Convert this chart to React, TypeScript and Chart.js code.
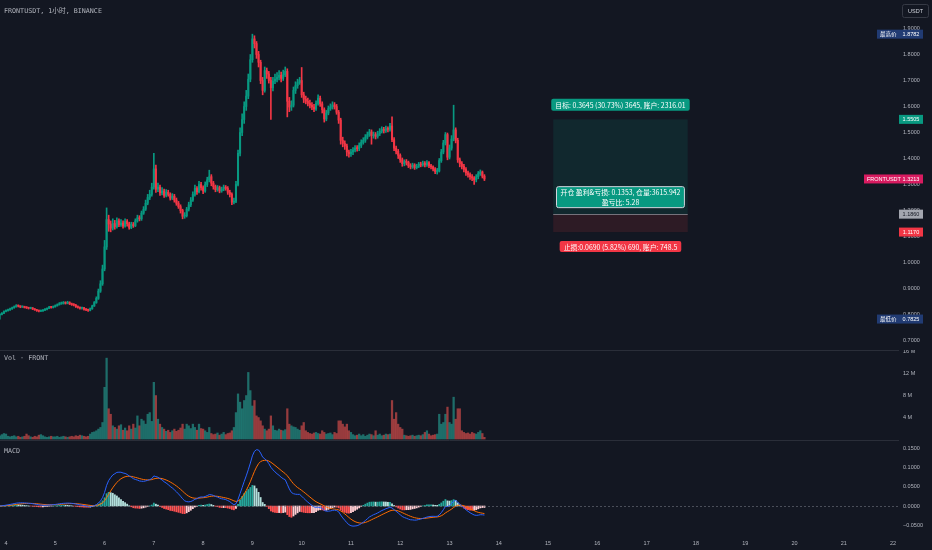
import React, { useEffect, useRef } from "react";
import Chart from "chart.js/auto";

// 1h candles. Hour 0 = day 4 00:00, the first candle is day 3 21:00
const firstHour = -3;
const firstOpen = 0.798;

const closes = [
  0.8, 0.805, 0.812,
  0.815, 0.818, 0.822, 0.826, 0.83, 0.834, 0.832, 0.829, 0.83, 0.827, 0.826, 0.824, 0.825, 0.821, 0.818, 0.815, 0.813, 0.814, 0.817, 0.82, 0.824, 0.828, 0.827, 0.83,
  0.834, 0.838, 0.842, 0.843, 0.845, 0.843, 0.846, 0.841, 0.838, 0.836, 0.83, 0.827, 0.824, 0.826, 0.82, 0.818, 0.816, 0.822, 0.833, 0.846, 0.862, 0.89, 0.918, 0.975,
  1.06, 1.165, 1.148, 1.132, 1.15, 1.138, 1.16, 1.145, 1.152, 1.14, 1.158, 1.149, 1.135, 1.146, 1.142, 1.16, 1.172, 1.168, 1.19, 1.205, 1.228, 1.25, 1.262, 1.29,
  1.36, 1.282, 1.29, 1.268, 1.275, 1.258, 1.27, 1.262, 1.248, 1.255, 1.24, 1.228, 1.215, 1.2, 1.178, 1.18, 1.205, 1.222, 1.24, 1.262, 1.285, 1.272, 1.3, 1.288,
  1.275, 1.3, 1.318, 1.33, 1.305, 1.292, 1.28, 1.288, 1.275, 1.282, 1.29, 1.285, 1.27, 1.262, 1.232, 1.235, 1.3, 1.42, 1.5, 1.55, 1.6, 1.64, 1.705, 1.78,
  1.86, 1.842, 1.8, 1.77, 1.7, 1.662, 1.738, 1.725, 1.7, 1.672, 1.698, 1.705, 1.712, 1.72, 1.708, 1.722, 1.735, 1.62, 1.598, 1.605, 1.662, 1.68, 1.692, 1.7,
  1.645, 1.628, 1.62, 1.612, 1.605, 1.598, 1.59, 1.612, 1.632, 1.61, 1.588, 1.552, 1.575, 1.592, 1.598, 1.606, 1.6, 1.578, 1.548, 1.47, 1.458, 1.448, 1.425, 1.418,
  1.425, 1.432, 1.44, 1.438, 1.45, 1.462, 1.47, 1.482, 1.492, 1.502, 1.488, 1.492, 1.485, 1.495, 1.505, 1.512, 1.508, 1.515, 1.512, 1.525, 1.472, 1.44, 1.428, 1.412,
  1.395, 1.38, 1.388, 1.385, 1.372, 1.368, 1.375, 1.365, 1.37, 1.378, 1.375, 1.382, 1.376, 1.384, 1.372, 1.368, 1.36, 1.35, 1.352, 1.392, 1.425, 1.46, 1.492, 1.405,
  1.44, 1.475, 1.51, 1.47, 1.395, 1.38, 1.37, 1.358, 1.345, 1.338, 1.33, 1.325, 1.318, 1.33, 1.342, 1.348, 1.332, 1.3213,
];

const highs = [
  0.803, 0.807, 0.814,
  0.818, 0.821, 0.825, 0.829, 0.833, 0.838, 0.837, 0.834, 0.833, 0.832, 0.83, 0.828, 0.828, 0.827, 0.823, 0.82, 0.817, 0.817, 0.819, 0.823, 0.826, 0.831, 0.831, 0.833,
  0.837, 0.841, 0.846, 0.848, 0.85, 0.849, 0.851, 0.849, 0.844, 0.842, 0.839, 0.833, 0.83, 0.829, 0.828, 0.823, 0.821, 0.825, 0.836, 0.85, 0.868, 0.898, 0.93, 0.99,
  1.085, 1.21, 1.182, 1.16, 1.168, 1.162, 1.172, 1.168, 1.165, 1.16, 1.168, 1.165, 1.155, 1.155, 1.154, 1.168, 1.182, 1.18, 1.198, 1.215, 1.24, 1.262, 1.278, 1.305,
  1.42, 1.375, 1.305, 1.298, 1.288, 1.282, 1.28, 1.278, 1.268, 1.265, 1.262, 1.248, 1.235, 1.222, 1.205, 1.192, 1.212, 1.232, 1.25, 1.272, 1.298, 1.292, 1.312, 1.308,
  1.295, 1.31, 1.328, 1.355, 1.338, 1.312, 1.298, 1.296, 1.294, 1.29, 1.298, 1.296, 1.292, 1.278, 1.268, 1.248, 1.312, 1.432, 1.518, 1.572, 1.618, 1.662, 1.725, 1.8,
  1.8782, 1.872, 1.85, 1.812, 1.778, 1.712, 1.752, 1.748, 1.735, 1.712, 1.712, 1.725, 1.73, 1.738, 1.732, 1.74, 1.752, 1.745, 1.635, 1.622, 1.675, 1.695, 1.705, 1.712,
  1.75, 1.655, 1.64, 1.632, 1.625, 1.615, 1.608, 1.622, 1.645, 1.64, 1.618, 1.595, 1.585, 1.602, 1.61, 1.618, 1.615, 1.608, 1.585, 1.555, 1.482, 1.468, 1.455, 1.432,
  1.435, 1.442, 1.45, 1.45, 1.46, 1.472, 1.48, 1.492, 1.502, 1.512, 1.51, 1.502, 1.5, 1.505, 1.515, 1.522, 1.52, 1.525, 1.522, 1.535, 1.56, 1.48, 1.448, 1.435,
  1.418, 1.402, 1.395, 1.396, 1.39, 1.38, 1.382, 1.38, 1.378, 1.385, 1.386, 1.39, 1.388, 1.392, 1.388, 1.378, 1.372, 1.365, 1.362, 1.4, 1.435, 1.47, 1.5, 1.498,
  1.452, 1.488, 1.605, 1.518, 1.478, 1.402, 1.388, 1.378, 1.365, 1.352, 1.345, 1.338, 1.33, 1.338, 1.35, 1.356, 1.352, 1.338,
];

const lows = [
  0.7825, 0.798, 0.803,
  0.81, 0.813, 0.816, 0.82, 0.824, 0.828, 0.829, 0.826, 0.827, 0.825, 0.823, 0.821, 0.822, 0.819, 0.816, 0.812, 0.81, 0.811, 0.812, 0.815, 0.818, 0.822, 0.824, 0.825,
  0.828, 0.832, 0.836, 0.839, 0.84, 0.84, 0.841, 0.838, 0.835, 0.833, 0.827, 0.824, 0.821, 0.821, 0.817, 0.815, 0.812, 0.814, 0.82, 0.831, 0.843, 0.858, 0.885, 0.912,
  0.968, 1.05, 1.12, 1.118, 1.125, 1.128, 1.132, 1.138, 1.139, 1.132, 1.136, 1.14, 1.128, 1.13, 1.135, 1.138, 1.155, 1.16, 1.162, 1.185, 1.2, 1.222, 1.242, 1.255,
  1.282, 1.27, 1.272, 1.258, 1.26, 1.25, 1.252, 1.255, 1.24, 1.242, 1.232, 1.22, 1.208, 1.19, 1.168, 1.17, 1.175, 1.198, 1.215, 1.235, 1.255, 1.262, 1.268, 1.278,
  1.265, 1.27, 1.292, 1.31, 1.295, 1.282, 1.272, 1.274, 1.268, 1.27, 1.276, 1.278, 1.262, 1.252, 1.222, 1.225, 1.23, 1.295, 1.41, 1.488, 1.535, 1.585, 1.63, 1.695,
  1.77, 1.825, 1.785, 1.752, 1.688, 1.645, 1.655, 1.708, 1.69, 1.55, 1.66, 1.688, 1.695, 1.702, 1.695, 1.7, 1.715, 1.56, 1.58, 1.585, 1.598, 1.65, 1.67, 1.685,
  1.635, 1.615, 1.61, 1.602, 1.595, 1.588, 1.58, 1.585, 1.605, 1.6, 1.575, 1.54, 1.545, 1.568, 1.585, 1.59, 1.59, 1.57, 1.535, 1.455, 1.445, 1.435, 1.41, 1.405,
  1.408, 1.415, 1.425, 1.428, 1.43, 1.442, 1.455, 1.462, 1.475, 1.485, 1.455, 1.478, 1.475, 1.478, 1.488, 1.498, 1.498, 1.5, 1.502, 1.505, 1.465, 1.43, 1.418, 1.4,
  1.385, 1.37, 1.372, 1.375, 1.365, 1.36, 1.362, 1.358, 1.36, 1.365, 1.368, 1.37, 1.368, 1.37, 1.365, 1.36, 1.352, 1.342, 1.34, 1.348, 1.385, 1.418, 1.452, 1.395,
  1.398, 1.432, 1.468, 1.46, 1.385, 1.368, 1.36, 1.348, 1.335, 1.328, 1.32, 1.315, 1.3, 1.31, 1.322, 1.335, 1.325, 1.315,
];

// volume in millions of FRONT
const volumes = [
  0.6, 0.8, 1.0,
  0.9, 0.5, 0.4, 0.5, 0.6, 0.4, 0.5, 0.3, 0.4, 0.5, 0.9, 0.6, 0.4, 0.3, 0.5, 0.4, 0.7, 0.8, 0.6, 0.4, 0.3, 0.4, 0.5, 0.4,
  0.4, 0.5, 0.3, 0.4, 0.5, 0.4, 0.3, 0.4, 0.5, 0.4, 0.6, 0.5, 0.7, 0.6, 0.5, 0.4, 0.5, 0.9, 1.2, 1.3, 1.5, 1.8, 2.1, 3.0,
  9.4, 14.7, 5.5, 4.5, 2.4, 2.1, 1.8, 2.4, 2.6, 1.6, 2.0, 1.5, 2.4, 1.8, 2.7, 2.0, 4.2, 2.4, 3.6, 3.3, 2.7, 4.5, 4.8, 3.2,
  10.3, 7.9, 3.6, 2.7, 2.1, 1.8, 1.4, 1.6, 1.2, 1.5, 1.8, 1.4, 1.6, 2.0, 2.7, 1.8, 2.7, 2.4, 1.9, 2.7, 2.1, 1.6, 2.7, 1.9,
  1.8, 1.5, 1.2, 2.1, 1.0, 0.8, 0.9, 1.1, 0.7, 0.9, 1.2, 0.8, 1.0, 1.1, 1.5, 2.1, 4.8, 8.2, 6.7, 5.5, 7.0, 7.9, 12.1, 8.8,
  6.0, 7.0, 4.2, 3.9, 3.3, 2.4, 1.8, 1.5, 1.8, 4.2, 2.4, 1.6, 1.5, 1.8, 1.6, 1.5, 1.7, 5.5, 2.7, 2.4, 2.2, 2.1, 1.8, 1.6,
  2.4, 3.0, 1.5, 1.2, 1.0, 0.9, 1.1, 1.2, 1.0, 0.9, 1.5, 1.2, 0.9, 1.0, 1.1, 0.8, 1.2, 1.0, 3.3, 3.3, 2.7, 2.2, 2.7, 1.5,
  1.2, 0.8, 0.6, 0.7, 0.9, 0.6, 0.8, 0.5, 0.7, 0.9, 0.8, 0.6, 1.5, 0.7, 0.9, 0.6, 0.7, 0.9, 0.8, 0.9, 7.0, 3.6, 4.8, 2.7,
  2.1, 1.8, 0.7, 0.6, 0.5, 0.6, 0.7, 0.5, 0.6, 0.7, 0.6, 0.8, 1.2, 1.5, 0.9, 0.6, 0.7, 0.8, 0.9, 4.5, 2.7, 3.0, 4.5, 5.8,
  3.0, 2.7, 7.6, 3.6, 5.5, 5.5, 1.5, 1.2, 1.0, 1.1, 0.9, 1.2, 1.0, 0.9, 1.2, 1.5, 1.0, 0.3,
];

const dayLabels = [4, 5, 6, 7, 8, 9, 10, 11, 12, 13, 14, 15, 16, 17, 18, 19, 20, 21, 22];
const priceTicks = [0.7, 0.8, 0.9, 1.0, 1.1, 1.2, 1.3, 1.4, 1.5, 1.6, 1.7, 1.8, 1.9];
const volumeTicks = [4, 8, 12, 16];
const macdTicks = [-0.05, 0, 0.05, 0.1, 0.15];

const highestPrice = 1.8782;
const lowestPrice = 0.7825;
const lastPrice = 1.3213;

// long position tool
const entryPrice = 1.186;
const targetPrice = 1.5505;
const stopPrice = 1.117;
const positionStart = 266.5;
const positionEnd = 332;
const targetText = "目标: 0.3645 (30.73%) 3645, 账户: 2316.01";
const openText = ["开仓 盈利&亏损: 0.1353, 仓量:3615.942", "盈亏比: 5.28"];
const stopText = "止损:0.0690 (5.82%) 690, 账户: 748.5";

const BG = "#131722";
const TEXT = "#b2b5be";
const UP = "#089981";
const DOWN = "#f23645";
const X_MIN = -2.92;
const X_MAX = 434.9;
const AXIS_W = 33;
const AXIS_FONT = { family: '"Liberation Sans", "Noto Sans CJK SC", sans-serif', size: 5.5 };
const MONO = '6.7px "DejaVu Sans Mono", "Noto Sans CJK SC", monospace';
const LABEL_FONT = '6.9px "Noto Sans CJK SC", "Noto Sans", sans-serif';

function ema(values: number[], n: number) {
  const k = 2 / (n + 1);
  const out: number[] = [];
  values.forEach((v, i) => out.push(i === 0 ? v : v * k + out[i - 1] * (1 - k)));
  return out;
}

function yAxis(min: number, max: number, ticks: number[], fmt: (v: number) => string) {
  return {
    position: "right" as const,
    min,
    max,
    grid: { display: false, drawTicks: false },
    border: { display: false },
    ticks: { color: TEXT, font: AXIS_FONT, padding: 4, callback: (v: any) => fmt(Number(v)) },
    afterBuildTicks: (s: any) => {
      s.ticks = ticks.map((v) => ({ value: v }));
    },
    afterFit: (s: any) => {
      s.width = AXIS_W;
      s.paddingTop = 0;
      s.paddingBottom = 0;
    },
  };
}

const hiddenX = { type: "linear" as const, min: X_MIN, max: X_MAX, display: false, offset: false };

function baseOptions(scales: any) {
  return {
    animation: false as const,
    responsive: false,
    events: [],
    layout: { padding: 0, autoPadding: false },
    plugins: { legend: { display: false }, tooltip: { enabled: false } },
    scales,
  };
}

function tag(ctx: CanvasRenderingContext2D, left: number, y: number, value: string, bg: string, fg: string, prefix?: string, prefixLeft?: number) {
  const w = 24;
  const h = 9;
  const x0 = prefix ? (prefixLeft as number) : left;
  ctx.fillStyle = bg;
  ctx.fillRect(x0, y - h / 2, left + w - x0, h);
  ctx.fillStyle = fg;
  ctx.font = `5.5px ${AXIS_FONT.family}`;
  ctx.textBaseline = "middle";
  ctx.textAlign = "center";
  ctx.fillText(value, left + w / 2, y + 0.5);
  if (prefix) {
    ctx.textAlign = "left";
    ctx.fillText(prefix, x0 + 3, y + 0.5);
  }
}

function box(ctx: CanvasRenderingContext2D, lines: string[], cx: number, cy: number, h: number, bg: string, border?: string) {
  ctx.font = LABEL_FONT;
  const w = Math.max(...lines.map((l) => ctx.measureText(l).width)) + 8;
  ctx.beginPath();
  ctx.roundRect(cx - w / 2, cy - h / 2, w, h, 2);
  ctx.fillStyle = bg;
  ctx.fill();
  if (border) {
    ctx.strokeStyle = border;
    ctx.lineWidth = 1;
    ctx.stroke();
  }
  ctx.fillStyle = "#ffffff";
  ctx.textAlign = "center";
  ctx.textBaseline = "middle";
  const step = h / lines.length;
  lines.forEach((l, i) => ctx.fillText(l, cx, cy - h / 2 + step * (i + 0.5) + 0.3));
}

const priceOverlay = {
  id: "priceOverlay",
  afterDraw(chart: any) {
    const { ctx, scales } = chart;
    const x = scales.x;
    const y = scales.y;
    ctx.save();
    ctx.font = MONO;
    ctx.fillStyle = TEXT;
    ctx.textAlign = "left";
    ctx.textBaseline = "middle";
    ctx.fillText("FRONTUSDT, 1小时, BINANCE", 4, 11);

    const x0 = x.getPixelForValue(positionStart);
    const x1 = x.getPixelForValue(positionEnd);
    const yT = y.getPixelForValue(targetPrice);
    const yE = y.getPixelForValue(entryPrice);
    const yS = y.getPixelForValue(stopPrice);
    ctx.fillStyle = "rgba(8,153,129,0.13)";
    ctx.fillRect(x0, yT, x1 - x0, yE - yT);
    ctx.fillStyle = "rgba(242,54,69,0.12)";
    ctx.fillRect(x0, yE, x1 - x0, yS - yE);
    ctx.strokeStyle = "rgba(149,152,161,0.7)";
    ctx.lineWidth = 1;
    ctx.beginPath();
    ctx.moveTo(x0, Math.round(yE) + 0.5);
    ctx.lineTo(x1, Math.round(yE) + 0.5);
    ctx.stroke();
    const cx = (x0 + x1) / 2;
    box(ctx, [targetText], cx, yT - 14.5, 12, UP);
    box(ctx, openText, cx, yE - 17, 21, UP, "#d1d4dc");
    box(ctx, [stopText], cx, yS + 14.5, 11, DOWN);

    const left = y.left;
    tag(ctx, left, y.getPixelForValue(highestPrice), highestPrice.toFixed(4), "#213b73", "#ffffff", "最高价", 877);
    tag(ctx, left, y.getPixelForValue(targetPrice), targetPrice.toFixed(4), UP, "#ffffff");
    tag(ctx, left, y.getPixelForValue(lastPrice), lastPrice.toFixed(4), "#d81b60", "#ffffff", "FRONTUSDT", 864);
    tag(ctx, left, y.getPixelForValue(entryPrice), entryPrice.toFixed(4), "#a3a6af", BG);
    tag(ctx, left, y.getPixelForValue(stopPrice), stopPrice.toFixed(4), DOWN, "#ffffff");
    tag(ctx, left, y.getPixelForValue(lowestPrice), lowestPrice.toFixed(4), "#213b73", "#ffffff", "最低价", 877);

    ctx.beginPath();
    ctx.roundRect(902.5, 4.5, 26, 13, 2);
    ctx.strokeStyle = "#363a45";
    ctx.stroke();
    ctx.fillStyle = "#d1d4dc";
    ctx.font = `5.5px ${AXIS_FONT.family}`;
    ctx.textAlign = "center";
    ctx.fillText("USDT", 915.5, 11.5);
    ctx.restore();
  },
};

const paneOverlay = (title: string, titleY: number, zeroLine: boolean) => ({
  id: "paneOverlay",
  afterDraw(chart: any) {
    const { ctx, scales } = chart;
    ctx.save();
    ctx.strokeStyle = "#2a2e39";
    ctx.lineWidth = 1;
    ctx.beginPath();
    ctx.moveTo(0, 0.5);
    ctx.lineTo(scales.y.left, 0.5);
    ctx.stroke();
    if (zeroLine) {
      const y0 = Math.round(scales.y.getPixelForValue(0)) + 0.5;
      ctx.setLineDash([2, 2]);
      ctx.strokeStyle = "rgba(120,123,134,0.55)";
      ctx.beginPath();
      ctx.moveTo(0, y0);
      ctx.lineTo(scales.y.left, y0);
      ctx.stroke();
    }
    ctx.font = MONO;
    ctx.fillStyle = TEXT;
    ctx.textAlign = "left";
    ctx.textBaseline = "middle";
    ctx.fillText(title, 4, titleY);
    ctx.restore();
  },
});

export default function App() {
  const priceRef = useRef<HTMLCanvasElement | null>(null);
  const volRef = useRef<HTMLCanvasElement | null>(null);
  const macdRef = useRef<HTMLCanvasElement | null>(null);

  useEffect(() => {
    if (!priceRef.current || !volRef.current || !macdRef.current) return;
    const n = Math.min(closes.length, highs.length, lows.length, volumes.length);
    const hours = closes.slice(0, n).map((_, i) => firstHour + i);
    const opens = hours.map((_, i) => (i === 0 ? firstOpen : closes[i - 1]));
    const up = hours.map((_, i) => closes[i] >= opens[i]);
    const candleColors = up.map((u) => (u ? UP : DOWN));

    const fast = ema(closes.slice(0, n), 12);
    const slow = ema(closes.slice(0, n), 26);
    const macd = fast.map((v, i) => v - slow[i]);
    const signal = ema(macd, 9);
    const hist = macd.map((v, i) => v - signal[i]);
    const histColors = hist.map((v, i) => {
      const rising = i > 0 && hist[i - 1] < v;
      if (v >= 0) return rising ? "#26a69a" : "#b2dfdb";
      return rising ? "#ffcdd2" : "#ff5252";
    });

    const price = new Chart(priceRef.current, {
      type: "bar",
      data: {
        datasets: [
          {
            data: hours.map((h, i) => ({ x: h, y: [lows[i], highs[i]] })) as any,
            backgroundColor: candleColors,
            barThickness: 1,
            grouped: false,
            order: 1,
          },
          {
            data: hours.map((h, i) => ({ x: h, y: [opens[i], closes[i]] })) as any,
            backgroundColor: candleColors,
            barThickness: 1.4,
            minBarLength: 1,
            grouped: false,
            order: 0,
          },
        ],
      },
      options: baseOptions({
        x: hiddenX,
        y: yAxis(0.6635, 2.0096, priceTicks, (v) => v.toFixed(4)),
      }) as any,
      plugins: [priceOverlay],
    });

    const vol = new Chart(volRef.current, {
      type: "bar",
      data: {
        datasets: [
          {
            data: hours.map((h, i) => ({ x: h, y: volumes[i] })) as any,
            backgroundColor: up.map((u) => (u ? "rgba(38,166,154,0.6)" : "rgba(239,83,80,0.6)")),
            barThickness: 1.6,
            grouped: false,
          },
        ],
      },
      options: baseOptions({
        x: hiddenX,
        y: yAxis(-0.18, 16.18, volumeTicks, (v) => `${v} M`),
      }) as any,
      plugins: [paneOverlay("Vol · FRONT", 8, false)],
    });

    const osc = new Chart(macdRef.current, {
      type: "bar",
      data: {
        datasets: [
          {
            type: "line",
            data: hours.map((h, i) => ({ x: h, y: macd[i] })),
            borderColor: "#2962ff",
            borderWidth: 1,
            pointRadius: 0,
            order: 0,
          },
          {
            type: "line",
            data: hours.map((h, i) => ({ x: h, y: signal[i] })),
            borderColor: "#ff6d00",
            borderWidth: 1,
            pointRadius: 0,
            order: 0,
          },
          {
            type: "bar",
            data: hours.map((h, i) => ({ x: h, y: hist[i] })),
            backgroundColor: histColors,
            barThickness: 1.2,
            grouped: false,
            order: 1,
          },
        ] as any,
      },
      options: baseOptions({
        x: {
          type: "linear",
          min: X_MIN,
          max: X_MAX,
          offset: false,
          grid: { display: false, drawTicks: false },
          border: { display: false },
          ticks: {
            color: TEXT,
            font: AXIS_FONT,
            padding: 5,
            autoSkip: false,
            maxRotation: 0,
            callback: (v: any) => String(4 + Number(v) / 24),
          },
          afterBuildTicks: (s: any) => {
            s.ticks = dayLabels.map((d) => ({ value: (d - 4) * 24 }));
          },
          afterFit: (s: any) => {
            s.height = 15;
            s.paddingLeft = 0;
            s.paddingRight = 0;
          },
        },
        y: yAxis(-0.075, 0.1707, macdTicks, (v) =>
          v < 0 ? "\u2212" + Math.abs(v).toFixed(4) : v.toFixed(4)
        ),
      }) as any,
      plugins: [paneOverlay("MACD", 11, true)],
    });

    return () => {
      price.destroy();
      vol.destroy();
      osc.destroy();
    };
  }, []);

  return (
    <div style={{ position: "fixed", left: 0, top: 0, width: 932, height: 550, background: BG }}>
      <canvas ref={priceRef} width={932} height={350} style={{ position: "absolute", left: 0, top: 0 }} />
      <canvas ref={volRef} width={932} height={90} style={{ position: "absolute", left: 0, top: 350 }} />
      <canvas ref={macdRef} width={932} height={110} style={{ position: "absolute", left: 0, top: 440 }} />
    </div>
  );
}
